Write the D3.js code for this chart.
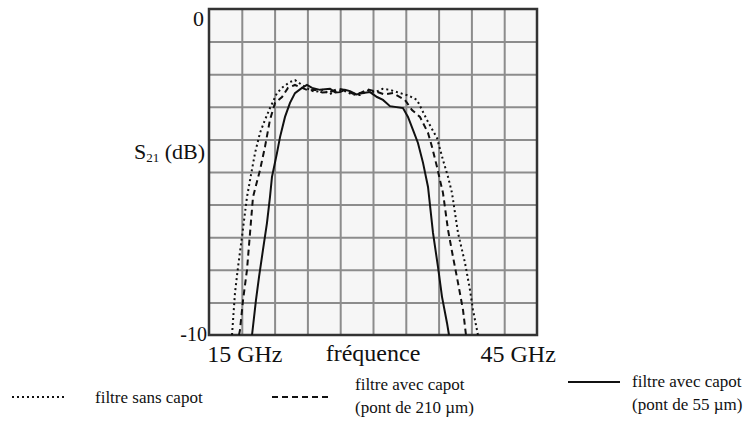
<!DOCTYPE html>
<html>
<head>
<meta charset="utf-8">
<script src="https://cdn.jsdelivr.net/npm/d3@7"></script>
<style>
  body { margin: 0; background: #fff; }
</style>
</head>
<body>
<svg id="chart" width="746" height="428" font-family="'Liberation Serif', 'Times New Roman', serif"></svg>
<script>
// frequency (GHz) / S21 (dB)
var freqSans = [13.88, 14.22, 14.57, 15.02, 15.59, 15.94, 16.51, 17.08, 17.65, 18.22, 19.02, 19.71, 20.51, 21.08, 21.88,
  22.6, 23.37, 24.2, 25.08, 25.9, 26.8, 27.6, 28.51, 29.4, 30.23, 31.1, 31.94, 33.09, 34.1, 35.03, 36.17, 37.32, 38.0,
  38.58, 39.03, 39.72, 40.52, 41.09, 41.43, 41.89, 42.0];
var dbSans = [-10, -8.71, -7.91, -6.99, -5.77, -5.25, -4.42, -3.80, -3.40, -3.04, -2.58, -2.39, -2.24, -2.18, -2.33,
  -2.45, -2.55, -2.48, -2.61, -2.5, -2.52, -2.62, -2.64, -2.5, -2.55, -2.45, -2.48, -2.58, -2.66, -2.79, -3.40, -3.96, -4.63,
  -5.15, -5.64, -6.87, -7.79, -8.62, -9.23, -9.85, -10];

var freq210 = [14.68, 14.79, 15.14, 15.59, 15.94, 16.28, 17.08, 17.65, 18.22, 18.80, 19.60, 20.28, 21.08, 21.88,
  22.6, 23.37, 24.2, 25.08, 26.0, 26.8, 27.7, 28.51, 29.4, 30.23, 31.3, 32.29, 33.66, 34.46, 35.37, 36.29, 36.75, 37.32,
  37.66, 38.0, 38.58, 39.15, 39.72, 40.29, 40.52, 40.63];
var db210 = [-10, -9.85, -8.93, -8.01, -6.87, -5.77, -4.94, -4.23, -3.40, -2.88, -2.70, -2.42, -2.33, -2.42,
  -2.5, -2.48, -2.56, -2.55, -2.45, -2.48, -2.6, -2.58, -2.47, -2.52, -2.62, -2.58, -2.79, -3.10, -3.31, -3.80, -4.23, -4.85,
  -5.25, -5.64, -6.78, -7.61, -8.40, -9.23, -9.75, -10];

var freq55 = [16.17, 16.62, 16.97, 17.42, 17.88, 18.22, 18.45, 19.02, 19.37, 19.94, 20.51, 21.08, 21.88, 22.45, 23.03,
  23.94, 25.08, 25.7, 26.23, 26.8, 27.37, 28.1, 28.86, 29.66, 30.46, 31.14, 31.94, 33.43, 34.0, 34.57, 35.14, 35.72, 36.29,
  36.86, 37.43, 37.89, 38.46, 38.69];
var db55 = [-10, -8.93, -8.22, -7.39, -6.56, -5.77, -5.15, -4.42, -3.93, -3.31, -2.88, -2.58, -2.42, -2.33, -2.42,
  -2.48, -2.45, -2.56, -2.55, -2.48, -2.52, -2.62, -2.58, -2.55, -2.70, -2.79, -2.98, -3.04, -3.31, -3.71, -4.11, -4.72, -5.46,
  -6.87, -7.91, -8.83, -9.63, -10];

var yTickLabels = ["0", "-10"];
var xTickFreq = [15, 45];
var xTickLabels = ["15 GHz", "45 GHz"];

var svg = d3.select("#chart");
var pLeft = 209, pRight = 537, pTop = 9, pBottom = 335;

var x = d3.scaleLinear().domain([11.25, 48.75]).range([pLeft, pRight]);
var y = d3.scaleLinear().domain([-10, 0]).range([pBottom, pTop]);

// plot background
svg.append("rect")
  .attr("x", pLeft).attr("y", pTop)
  .attr("width", pRight - pLeft).attr("height", pBottom - pTop)
  .attr("fill", "#f6f6f6");

// grid, 10 x 10 divisions
var gx = d3.range(1, 10).map(function(i) { return 11.25 + 3.75 * i; });
var gy = d3.range(1, 10).map(function(i) { return -i; });

svg.append("g")
  .attr("transform", "translate(0," + pBottom + ")")
  .call(d3.axisBottom(x).tickValues(gx).tickSize(-(pBottom - pTop)).tickFormat(""))
  .call(function(g) {
    g.select(".domain").remove();
    g.selectAll("line").attr("stroke", "#8c8c8c").attr("stroke-width", 2);
  });

svg.append("g")
  .attr("transform", "translate(" + pLeft + ",0)")
  .call(d3.axisLeft(y).tickValues(gy).tickSize(-(pRight - pLeft)).tickFormat(""))
  .call(function(g) {
    g.select(".domain").remove();
    g.selectAll("line").attr("stroke", "#8c8c8c").attr("stroke-width", 2);
  });

// frame
svg.append("rect")
  .attr("x", pLeft).attr("y", pTop)
  .attr("width", pRight - pLeft).attr("height", pBottom - pTop)
  .attr("fill", "none")
  .attr("stroke", "#333")
  .attr("stroke-width", 2.5);

var line = d3.line()
  .x(function(d) { return x(d[0]); })
  .y(function(d) { return y(d[1]); });

function drawCurve(fs, vs, dash) {
  svg.append("path")
    .datum(d3.zip(fs, vs))
    .attr("d", line)
    .attr("fill", "none")
    .attr("stroke", "#111")
    .attr("stroke-width", 2)
    .attr("stroke-dasharray", dash);
}

drawCurve(freqSans, dbSans, "2,3");
drawCurve(freq210, db210, "6,4");
drawCurve(freq55, db55, null);

// axis texts
svg.append("text").attr("x", 204).attr("y", 26).attr("text-anchor", "end")
  .attr("font-size", 22).attr("fill", "#111").text(yTickLabels[0]);
svg.append("text").attr("x", 207).attr("y", 341).attr("text-anchor", "end")
  .attr("font-size", 20).attr("fill", "#111").text(yTickLabels[1]);

var ylab = svg.append("text").attr("x", 134).attr("y", 159).attr("font-size", 22).attr("fill", "#111");
ylab.append("tspan").text("S");
ylab.append("tspan").attr("font-size", 13).attr("dy", 3).text("21");
ylab.append("tspan").attr("dy", -3).text(" (dB)");

var xLabelShift = [3, 14];
xTickFreq.forEach(function(f, i) {
  svg.append("text")
    .attr("x", x(f) + xLabelShift[i])
    .attr("y", 362)
    .attr("text-anchor", "middle")
    .attr("font-size", 24)
    .attr("fill", "#111")
    .text(xTickLabels[i]);
});
svg.append("text").attr("x", 373).attr("y", 361).attr("text-anchor", "middle")
  .attr("font-size", 24).attr("fill", "#111").text("fréquence");

// legend
var legend = [
  { dash: "2,3", x1: 12, x2: 65, ly: 397, tx: 95, lines: ["filtre sans capot"], ty: 403 },
  { dash: "6,4", x1: 272, x2: 330, ly: 397, tx: 355, lines: ["filtre avec capot", "(pont de 210 µm)"], ty: 390 },
  { dash: null, x1: 568, x2: 620, ly: 382, tx: 632, lines: ["filtre avec capot", "(pont de 55 µm)"], ty: 387 }
];

var lg = svg.append("g").selectAll("g").data(legend).join("g");
lg.append("line")
  .attr("x1", function(d) { return d.x1; })
  .attr("x2", function(d) { return d.x2; })
  .attr("y1", function(d) { return d.ly; })
  .attr("y2", function(d) { return d.ly; })
  .attr("stroke", "#111")
  .attr("stroke-width", 2)
  .attr("stroke-dasharray", function(d) { return d.dash; });
lg.each(function(d) {
  var g = d3.select(this);
  d.lines.forEach(function(t, i) {
    g.append("text")
      .attr("x", d.tx)
      .attr("y", d.ty + i * 23)
      .attr("font-size", 17)
      .attr("fill", "#111")
      .text(t);
  });
});
</script>
</body>
</html>
